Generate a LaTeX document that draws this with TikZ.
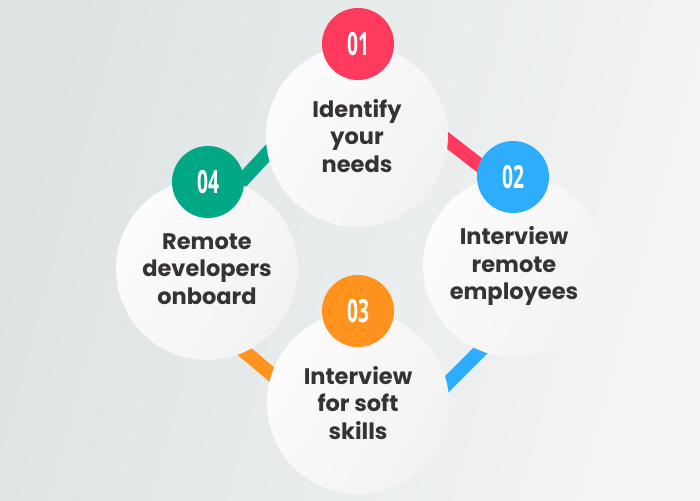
\documentclass[tikz,border=0pt]{standalone}
\usepackage{fontspec}
\setmainfont{Poppins}
\newfontfamily\numfont{Open Sans}[FakeStretch=0.6]
\definecolor{bgL}{HTML}{DDE3E3}
\definecolor{bgR}{HTML}{F4F5F5}
\definecolor{cRed}{HTML}{FE3B5E}
\definecolor{cBlue}{HTML}{2FADFD}
\definecolor{cOrange}{HTML}{FF931E}
\definecolor{cGreen}{HTML}{02A885}
\definecolor{txtc}{HTML}{373334}
\definecolor{cirL}{HTML}{FCFCFC}
\definecolor{cirR}{HTML}{F2F2F2}
\tikzset{
  bigc/.style={circle, minimum size=182pt, inner sep=0pt,
    left color=cirL, right color=cirR, shading angle=60,
    text=txtc, font=\bfseries\fontsize{22.5}{27.5}\selectfont, align=center},
  badge/.style={circle, minimum size=72pt, inner sep=0pt, text=white,
    font=\numfont\bfseries\fontsize{32}{32}\selectfont},
  conn/.style={line width=14pt}
}
\begin{document}
\begin{tikzpicture}[x=1pt,y=-1pt]
\useasboundingbox (0,0) rectangle (700,500);
\shade[left color=bgL, right color=bgR, shading angle=75] (0,0) rectangle (700,500);
% connector end points
\coordinate (r1) at (420,119);
\coordinate (r2) at (505,185);
\coordinate (g1) at (225,199);
\coordinate (g2) at (290,129);
\coordinate (u1) at (495,336);
\coordinate (u2) at (430,401);
\coordinate (o1) at (225,335);
\coordinate (o2) at (290,390);
\draw[conn, cRed] (r1) -- (r2);
\draw[conn, cGreen] (g1) -- (g2);
\draw[conn, cBlue] (u1) -- (u2);
\draw[conn, cOrange] (o1) -- (o2);
% circles
\node[bigc] (c1) at (357,136) {Identify\\your\\needs};
\node[bigc] (c4) at (207,269) {Remote\\developers\\onboard};
\node[bigc] (c2) at (514,266) {Interview\\remote\\employees};
\node[bigc] (c3) at (358,403) {Interview\\for soft\\skills};
% badges
\node[badge, fill=cRed] (b1) at (358,44) {01};
\node[badge, fill=cBlue] (b2) at (513,177) {02};
\node[badge, fill=cOrange] (b3) at (358,311) {03};
\node[badge, fill=cGreen] (b4) at (208,182) {04};
\end{tikzpicture}
\end{document}
